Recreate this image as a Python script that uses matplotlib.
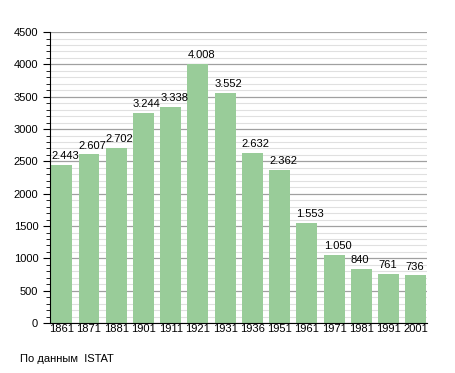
import matplotlib.pyplot as plt
from matplotlib.ticker import MultipleLocator

plt.rcParams['font.family'] = ['Liberation Sans', 'DejaVu Sans']

anni = ['1861', '1871', '1881', '1901', '1911', '1921', '1931',
        '1936', '1951', '1961', '1971', '1981', '1991', '2001']
abitanti = [2443, 2607, 2702, 3244, 3338, 4008, 3552,
            2632, 2362, 1553, 1050, 840, 761, 736]
etichette = ['2.443', '2.607', '2.702', '3.244', '3.338', '4.008', '3.552',
             '2.632', '2.362', '1.553', '1.050', '840', '761', '736']

fig = plt.figure(figsize=(4.55, 3.73), dpi=100)
ax = fig.add_axes([0.110, 0.134, 0.829, 0.780])

larg = 0.77
x = range(len(anni))
ax.bar(x, abitanti, width=larg, color='#99cc99', zorder=3)
# etichette allineate a sinistra sul bordo della barra
for i, v in enumerate(abitanti):
    ax.text(i - larg / 2, v + 60, etichette[i], ha='left', va='bottom', fontsize=8, zorder=4)

ax.set_xlim(-0.43, 13.42)
ax.set_ylim(0, 4500)
ax.set_xticks(list(x))
ax.set_xticklabels(anni, fontsize=8)
ax.yaxis.set_major_locator(MultipleLocator(500))
ax.yaxis.set_minor_locator(MultipleLocator(100))
ax.tick_params(axis='y', labelsize=8, direction='out', length=5)
ax.tick_params(axis='y', which='minor', length=3)
ax.tick_params(axis='x', length=0, pad=1)
ax.grid(axis='y', which='major', color='#a0a0a0', linewidth=0.9, zorder=0)
ax.grid(axis='y', which='minor', color='#e0e0e0', linewidth=0.8, zorder=0)
for s in ['top', 'right']:
    ax.spines[s].set_visible(False)
ax.spines['left'].set_zorder(5)
ax.spines['bottom'].set_zorder(5)

fig.text(0.044, 0.03, 'По данным  ISTAT', fontsize=8)

fig.savefig('out.png', dpi=100)
